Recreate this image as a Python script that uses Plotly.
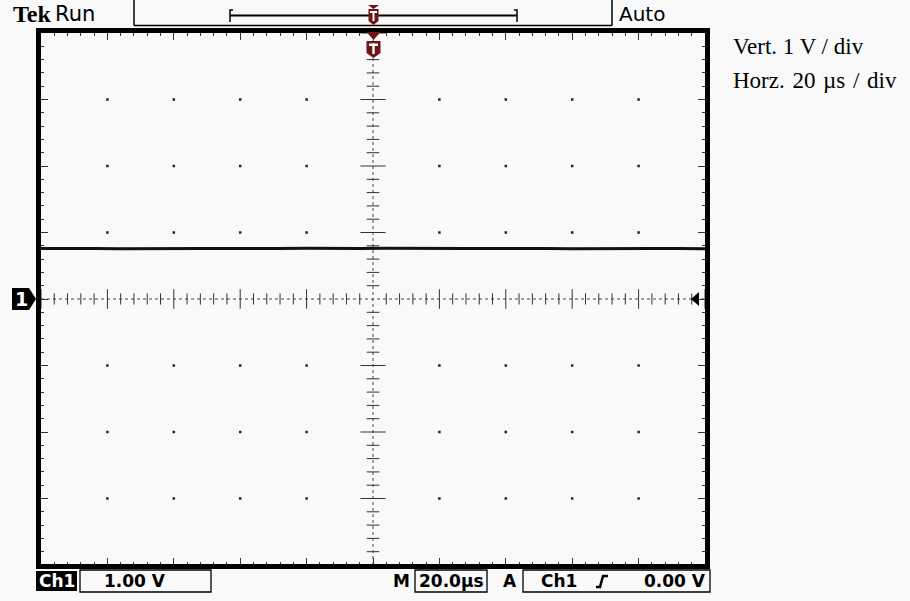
import plotly.graph_objects as go

time_us = [-100, -92, -84, -76, -68, -60, -52, -44, -36, -28, -20, -12, -4,
           4, 12, 20, 28, 36, 44, 52, 60, 68, 76, 84, 92, 100]
ch1_volts = [0.76, 0.765, 0.76, 0.755, 0.76, 0.765, 0.76, 0.76, 0.755, 0.76, 0.765, 0.76, 0.76,
             0.765, 0.76, 0.755, 0.76, 0.76, 0.765, 0.76, 0.755, 0.76, 0.765, 0.76, 0.76, 0.755]

x_range = [-100, 100]      # 10 div x 20 us/div
y_range = [-4, 4]          # 8 div x 1 V/div
x_div = 20
y_div = 1

vert_label = "Vert. 1 V / div"
horz_label = "Horz.\u200420\u2004µs\u2004/\u2004div"
ch_label = "Ch1"
scale_label = "1.00 V"
time_label = "20.0µs"
trig_src = "Ch1"
trig_level = "0.00 V"

W, H = 910, 601
L, R, T, B = 41, 705, 33, 565   # plot area in pixels


def px(x):
    return (x - L) / (R - L)


def py(y):
    return (B - y) / (B - T)


def path(points, close=True):
    s = "M " + " L ".join(f"{px(a):.5f},{py(b):.5f}" for a, b in points)
    return s + (" Z" if close else "")


fig = go.Figure()

# major graticule dots
gx, gy = [], []
for i in range(-4, 5):
    for j in range(-3, 4):
        if i != 0 and j != 0:
            gx.append(i * x_div)
            gy.append(j * y_div)
fig.add_trace(go.Scatter(x=gx, y=gy, mode="markers", hoverinfo="skip",
                         marker=dict(symbol="square", size=2.5, color="#222"), showlegend=False))

# center-cross tick marks
minor_x = [k * x_div / 5 for k in range(-25, 26) if k % 5 != 0]
major_x = [k * x_div for k in range(-5, 6) if k != 0]
minor_y = [k * y_div / 5 for k in range(-20, 21) if k % 5 != 0]
major_y = [k * y_div for k in range(-4, 5) if k != 0]
fig.add_trace(go.Scatter(x=minor_x, y=[0] * len(minor_x), mode="markers", hoverinfo="skip",
                         marker=dict(symbol="line-ns", size=8, line=dict(width=1, color="#333")),
                         showlegend=False))
fig.add_trace(go.Scatter(x=major_x, y=[0] * len(major_x), mode="markers", hoverinfo="skip",
                         marker=dict(symbol="line-ns", size=14, line=dict(width=1, color="#333")),
                         showlegend=False))
fig.add_trace(go.Scatter(x=[0] * len(minor_y), y=minor_y, mode="markers", hoverinfo="skip",
                         marker=dict(symbol="line-ew", size=9, line=dict(width=1, color="#333")),
                         showlegend=False))
fig.add_trace(go.Scatter(x=[0] * len(major_y), y=major_y, mode="markers", hoverinfo="skip",
                         marker=dict(symbol="line-ew", size=18, line=dict(width=1, color="#333")),
                         showlegend=False))

# the waveform
fig.add_trace(go.Scatter(x=time_us, y=ch1_volts, mode="lines", hoverinfo="skip",
                         line=dict(color="#111", width=3), showlegend=False))

shapes = []
# center cross dotted lines
shapes.append(dict(type="line", xref="x", yref="y", x0=0, x1=0, y0=y_range[0], y1=y_range[1],
                   line=dict(color="#444", width=1, dash="dot"), layer="below"))
shapes.append(dict(type="line", xref="x", yref="y", x0=x_range[0], x1=x_range[1], y0=0, y1=0,
                   line=dict(color="#444", width=1, dash="dot"), layer="below"))
# frame
shapes.append(dict(type="rect", xref="paper", yref="paper", x0=px(38.5), x1=px(707.5),
                   y0=py(566.5), y1=py(30.5), line=dict(color="black", width=5)))
# top bar lines
ln = dict(color="black", width=1.5)
shapes.append(dict(type="line", xref="paper", yref="paper", x0=px(134), x1=px(612),
                   y0=py(25.5), y1=py(25.5), line=ln))
shapes.append(dict(type="line", xref="paper", yref="paper", x0=px(134), x1=px(134),
                   y0=py(0), y1=py(25.5), line=ln))
shapes.append(dict(type="line", xref="paper", yref="paper", x0=px(612), x1=px(612),
                   y0=py(0), y1=py(25.5), line=ln))
# record-length bracket
shapes.append(dict(type="line", xref="paper", yref="paper", x0=px(230), x1=px(517),
                   y0=py(15.5), y1=py(15.5), line=dict(color="black", width=2)))
shapes.append(dict(type="path", xref="paper", yref="paper",
                   path=path([(233, 10), (230, 10), (230, 22)], close=False), line=ln))
shapes.append(dict(type="path", xref="paper", yref="paper",
                   path=path([(514, 10), (517, 10), (517, 22)], close=False), line=ln))

red = "#6e1515"
# trigger marker in record bar
shapes.append(dict(type="path", xref="paper", yref="paper",
                   path=path([(368, 5), (379, 5), (373.5, 9)]), fillcolor=red, line=dict(width=0)))
shapes.append(dict(type="path", xref="paper", yref="paper",
                   path=path([(368.5, 9), (378.5, 9), (378.5, 21), (373.5, 25), (368.5, 21)]),
                   fillcolor=red, line=dict(width=0)))
shapes.append(dict(type="rect", xref="paper", yref="paper", x0=px(370), x1=px(377),
                   y0=py(13), y1=py(11), fillcolor="white", line=dict(width=0)))
shapes.append(dict(type="rect", xref="paper", yref="paper", x0=px(372.5), x1=px(374.5),
                   y0=py(21), y1=py(11), fillcolor="white", line=dict(width=0)))
# trigger marker under frame
shapes.append(dict(type="path", xref="paper", yref="paper",
                   path=path([(366.5, 32), (380.5, 32), (373.5, 40)]), fillcolor=red, line=dict(width=0)))
shapes.append(dict(type="path", xref="paper", yref="paper",
                   path=path([(366.5, 41), (380.5, 41), (380.5, 53), (373.5, 58), (366.5, 53)]),
                   fillcolor=red, line=dict(width=0)))
shapes.append(dict(type="rect", xref="paper", yref="paper", x0=px(369), x1=px(378),
                   y0=py(46), y1=py(43.5), fillcolor="white", line=dict(width=0)))
shapes.append(dict(type="rect", xref="paper", yref="paper", x0=px(372.3), x1=px(374.7),
                   y0=py(54), y1=py(43.5), fillcolor="white", line=dict(width=0)))
# channel 1 ground marker
shapes.append(dict(type="path", xref="paper", yref="paper",
                   path=path([(12, 288), (29, 288), (36, 299), (29, 310), (12, 310)]),
                   fillcolor="black", line=dict(width=0)))
# trigger level marker on right
shapes.append(dict(type="path", xref="paper", yref="paper",
                   path=path([(691, 299), (699, 292), (699, 306)]),
                   fillcolor="black", line=dict(width=0)))
# bottom readout boxes
shapes.append(dict(type="rect", xref="paper", yref="paper", x0=px(36), x1=px(77),
                   y0=py(591), y1=py(571), fillcolor="black", line=dict(width=0)))
shapes.append(dict(type="rect", xref="paper", yref="paper", x0=px(80), x1=px(211),
                   y0=py(592), y1=py(570), line=dict(color="black", width=1.3)))
shapes.append(dict(type="rect", xref="paper", yref="paper", x0=px(415), x1=px(487),
                   y0=py(592), y1=py(570), line=dict(color="black", width=1.3)))
shapes.append(dict(type="rect", xref="paper", yref="paper", x0=px(523), x1=px(710),
                   y0=py(592), y1=py(570), line=dict(color="black", width=1.3)))
# rising-edge slope symbol
shapes.append(dict(type="path", xref="paper", yref="paper",
                   path=path([(596, 587), (600, 587), (603, 576), (608, 576)], close=False),
                   line=dict(color="black", width=2.5)))

ann = []


def text(x, y, s, size, family="DejaVu Sans", color="black", anchor="left", bold=False):
    ann.append(dict(xref="paper", yref="paper", x=px(x), y=py(y), text=(f"<b>{s}</b>" if bold else s),
                    showarrow=False, xanchor=anchor, yanchor="middle",
                    font=dict(size=size, family=family, color=color)))


text(11, 14, "Tek", 24, family="Liberation Serif", bold=True)
text(53, 14, "Run", 21, family="DejaVu Sans")
text(617, 14, "Auto", 20, family="DejaVu Sans")
text(731, 46, vert_label, 23, family="Liberation Serif")
text(731, 80, horz_label, 23, family="Liberation Serif")
text(30, 299, "1", 19, family="DejaVu Sans", color="white", anchor="right", bold=True)
text(57, 581, ch_label, 17, family="DejaVu Sans", color="white", anchor="center", bold=True)
text(102, 581, scale_label, 17, family="DejaVu Sans", bold=True)
text(412, 581, "M", 17, family="DejaVu Sans", anchor="right", bold=True)
text(451, 581, time_label, 17, family="DejaVu Sans", anchor="center", bold=True)
text(519, 581, "A", 17, family="DejaVu Sans", anchor="right", bold=True)
text(539, 581, trig_src, 17, family="DejaVu Sans", bold=True)
text(708, 581, trig_level, 17, family="DejaVu Sans", anchor="right", bold=True)

axis_common = dict(showgrid=False, zeroline=False, showline=False, showticklabels=False,
                   ticks="inside", mirror="ticks", tickcolor="#333", tickwidth=1, ticklen=7)
fig.update_layout(
    width=W, height=H,
    margin=dict(l=L, r=W - R, t=T, b=H - B, pad=0),
    paper_bgcolor="#f9f9f9", plot_bgcolor="#f9f9f9",
    xaxis=dict(range=x_range, tick0=x_range[0], dtick=x_div,
               minor=dict(ticks="inside", dtick=x_div / 5, ticklen=3, tickcolor="#333", tickwidth=1),
               fixedrange=True, **axis_common),
    yaxis=dict(range=y_range, tick0=y_range[0], dtick=y_div,
               minor=dict(ticks="inside", dtick=y_div / 5, ticklen=3, tickcolor="#333", tickwidth=1),
               fixedrange=True, **axis_common),
    shapes=shapes, annotations=ann, showlegend=False,
)

fig.write_html("out.html")
